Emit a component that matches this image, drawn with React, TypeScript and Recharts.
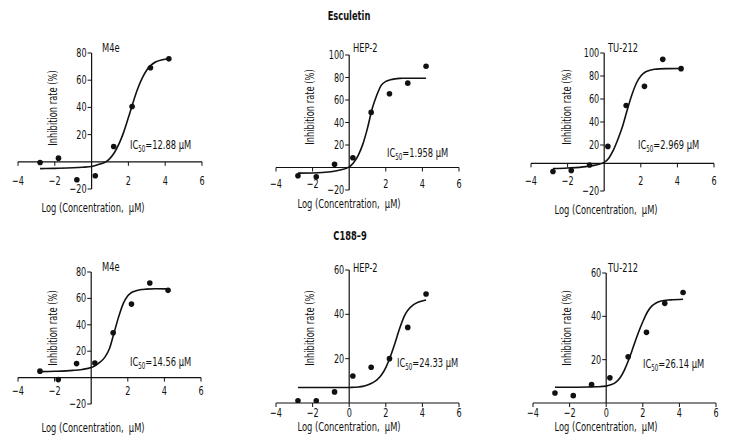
import React from "react";
import { ComposedChart, XAxis, YAxis, Line, Scatter, ReferenceLine, ReferenceDot } from "recharts";

const FONT = '"Liberation Sans Narrow", "DejaVu Sans Condensed", "Arial Narrow", "Liberation Sans", sans-serif';
const INK = "#111";
const SQUEEZE = 0.77; // the source uses a condensed face
const TICK_SQUEEZE = 0.72;

// measured log concentrations (µM) and x positions where the fitted curves were read
const logConc = [-2.8, -1.8, -0.8, 0.2, 1.2, 2.2, 3.2, 4.2];
const fitLogConc = [-2.8, -2, -1, -0.5, 0, 0.25, 0.5, 0.75, 1, 1.25, 1.5, 1.75, 2, 2.25, 2.5, 2.75, 3, 3.5, 4.2];

// Esculetin
const escM4e = [-0.5, 2.7, -13.2, -10.3, 11.3, 40.7, 69.1, 75.7];
const escM4eFit = [-5, -4.8, -4.4, -4, -3.4, -2.6, -1.5, -0.2, 2.5, 7, 13.5, 22, 32.5, 43.5, 53.5, 61.5, 67.5, 73.5, 75.8];
const escHep2 = [-7.3, -8.2, 2.9, 8.7, 49, 65.6, 75, 90];
const escHep2Fit = [-5, -4.9, -3.8, -2.2, 0.6, 4.5, 11, 21, 35, 52, 64, 73, 76.5, 78, 78.8, 79.2, 79.3, 79.4, 79.4];
const escTu212 = [-3, -2.2, 2.6, 18.8, 54.3, 71, 94.5, 86.4];
const escTu212Fit = [-0.5, 0, 1.2, 2.5, 4.9, 8.5, 15.5, 25, 36, 50, 63, 73.5, 80, 83.5, 85, 85.8, 86.2, 86.4, 86.5];

// C188-9
const cM4e = [4.9, -1.5, 10.6, 11, 34, 55.7, 71.7, 66.1];
const cM4eFit = [4.5, 4.8, 5.5, 6.2, 7.6, 9.3, 11.9, 15.5, 22, 34, 46, 56, 62, 64.8, 66, 66.7, 67, 67.3, 67.2];
const cHep2 = [1, 1, 5, 12.2, 16.1, 20, 34.1, 49.2];
const cHep2Fit = [7, 7, 7, 7, 7, 7.1, 7.2, 7.5, 8.1, 9, 10.3, 12.5, 16, 21, 27, 33.5, 39, 44.3, 46.5];
const cTu212 = [4.6, 3.4, 8.5, 11.6, 21.3, 32.6, 46, 51];
const cTu212Fit = [7.3, 7.3, 7.4, 7.5, 7.8, 8.4, 9.4, 11.5, 15.3, 20.4, 26.4, 32.3, 37.5, 42, 44.8, 46.3, 47.1, 47.6, 47.9];

const xTicks = [-4, -2, 0, 2, 4, 6];
const M = { top: 12, right: 12, bottom: 26, left: 12 };

type Panel = {
  name: string;
  ic50: string;
  pts: number[];
  fit: number[];
  yDomain: [number, number];
  yTicks: number[];
  cross: number;
  zeroLabel: boolean;
  xLabelDy: number;
  box: [number, number, number, number];
  yTitle: [number, number];
  xTitle: [number, number];
  nameAt: [number, number];
  icAt: [number, number];
};

const panels: Panel[] = [
  { name: "M4e", ic50: "12.88", pts: escM4e, fit: escM4eFit, yDomain: [-20, 80], yTicks: [-20, 20, 40, 60, 80], cross: 0, zeroLabel: false, xLabelDy: 19,
    box: [18, 53, 184, 136], yTitle: [53, 108], xTitle: [93, 208], nameAt: [102, 48], icAt: [130, 146] },
  { name: "HEP-2", ic50: "1.958", pts: escHep2, fit: escHep2Fit, yDomain: [-20, 100], yTicks: [-20, 20, 40, 60, 80, 100], cross: 0, zeroLabel: false, xLabelDy: 16,
    box: [276, 55, 183, 135], yTitle: [310, 107], xTitle: [349, 204], nameAt: [353, 48], icAt: [387, 154] },
  { name: "TU-212", ic50: "2.969", pts: escTu212, fit: escTu212Fit, yDomain: [-20, 100], yTicks: [-20, 20, 40, 60, 80, 100], cross: 4, zeroLabel: false, xLabelDy: 18,
    box: [531, 53, 183, 138], yTitle: [567, 107], xTitle: [606, 210], nameAt: [608, 48], icAt: [638, 146] },
  { name: "M4e", ic50: "14.56", pts: cM4e, fit: cM4eFit, yDomain: [-20, 80], yTicks: [-20, 20, 40, 60, 80], cross: 0, zeroLabel: false, xLabelDy: 13,
    box: [18, 272, 183, 132], yTitle: [53, 328], xTitle: [93, 428], nameAt: [102, 267], icAt: [130, 363] },
  { name: "HEP-2", ic50: "24.33", pts: cHep2, fit: cHep2Fit, yDomain: [0, 60], yTicks: [20, 40, 60], cross: 0, zeroLabel: true, xLabelDy: 9.5,
    box: [276, 270, 183, 133], yTitle: [310, 328], xTitle: [349, 426.5], nameAt: [353, 268], icAt: [397, 364] },
  { name: "TU-212", ic50: "26.14", pts: cTu212, fit: cTu212Fit, yDomain: [0, 60], yTicks: [20, 40, 60], cross: 0, zeroLabel: true, xLabelDy: 9.5,
    box: [533, 273, 183, 130], yTitle: [567, 328], xTitle: [606, 426.5], nameAt: [608, 268], icAt: [643, 365] },
];

const fmt = (v: number) => (v < 0 ? "\u2212" + Math.abs(v) : String(v));

const TickText = ({ x, y, anchor, children }: any) => (
  <text
    transform={`translate(${x} ${y}) scale(${TICK_SQUEEZE} 1)`}
    textAnchor={anchor}
    dominantBaseline="central"
    fontFamily={FONT}
    fontSize={12.5}
    fill={INK}
  >
    {children}
  </text>
);

const xTickShape = (label: string, dy: number) => (p: any) => (
  <g>
    <line x1={p.cx} y1={p.cy} x2={p.cx} y2={p.cy + 4} stroke={INK} strokeWidth={1} />
    {label ? <TickText x={p.cx} y={p.cy + dy} anchor="middle">{label}</TickText> : null}
  </g>
);

const yTickShape = (label: string) => (p: any) => (
  <g>
    <line x1={p.cx} y1={p.cy} x2={p.cx - 4} y2={p.cy} stroke={INK} strokeWidth={1} />
    <TickText x={p.cx - 5} y={p.cy} anchor="end">{label}</TickText>
  </g>
);

const dotShape = (p: any) => <circle cx={p.cx} cy={p.cy} r={2.8} fill={INK} />;

function Label({ at, anchor = "middle", rotate = false, bold = false, children }: any) {
  const start = anchor === "start";
  return (
    <div
      style={{
        position: "absolute",
        left: at[0],
        top: at[1],
        transform: `translate(${start ? "0" : "-50%"}, -50%)${rotate ? " rotate(-90deg)" : ""} scaleX(${SQUEEZE})`,
        transformOrigin: start ? "0 50%" : "50% 50%",
        whiteSpace: "nowrap",
        fontFamily: FONT,
        fontSize: 12,
        fontWeight: bold ? 700 : 400,
        lineHeight: 1,
        color: INK,
      }}
    >
      {children}
    </div>
  );
}

function PanelChart({ p }: { p: Panel }) {
  const [l, t, w, h] = p.box;
  const pts = logConc.map((x, i) => ({ x, y: p.pts[i] }));
  const fit = fitLogConc.map((x, i) => ({ x, y: p.fit[i] }));
  return (
    <>
      <div style={{ position: "absolute", left: l - M.left, top: t - M.top }}>
        <ComposedChart width={w + M.left + M.right} height={h + M.top + M.bottom} margin={M}>
          <XAxis type="number" dataKey="x" domain={[-4, 6]} hide allowDataOverflow />
          <YAxis type="number" dataKey="y" domain={p.yDomain} hide allowDataOverflow />
          <ReferenceLine y={p.cross} stroke={INK} strokeWidth={1.2} ifOverflow="visible" />
          <ReferenceLine x={0} stroke={INK} strokeWidth={1.2} ifOverflow="visible" />
          {xTicks
            .filter((v) => v !== 0 || p.zeroLabel)
            .map((v) => (
              <ReferenceDot key={"x" + v} x={v} y={p.cross} r={1} ifOverflow="visible" shape={xTickShape(fmt(v), p.xLabelDy)} />
            ))}
          {p.yTicks.map((v) => (
            <ReferenceDot key={"y" + v} x={0} y={v} r={1} ifOverflow="visible" shape={yTickShape(fmt(v))} />
          ))}
          <Line data={fit} dataKey="y" type="monotone" dot={false} stroke={INK} strokeWidth={1.6} isAnimationActive={false} />
          <Scatter data={pts} dataKey="y" shape={dotShape} isAnimationActive={false} />
        </ComposedChart>
      </div>
      <Label at={p.yTitle} rotate>Inhibition rate (%)</Label>
      <Label at={p.xTitle}>Log (Concentration,&nbsp; μM)</Label>
      <Label at={p.nameAt} anchor="start">{p.name}</Label>
      <Label at={p.icAt} anchor="start">
        IC<sub style={{ fontSize: 8, verticalAlign: "-3px" }}>50</sub>={p.ic50} μM
      </Label>
    </>
  );
}

export default function App() {
  return (
    <div style={{ position: "absolute", left: 0, top: 0, width: 732, height: 444, background: "#fff" }}>
      <Label at={[349, 16]} bold>Esculetin</Label>
      <Label at={[350, 236]} bold>C188–9</Label>
      {panels.map((p, i) => (
        <PanelChart key={i} p={p} />
      ))}
    </div>
  );
}
